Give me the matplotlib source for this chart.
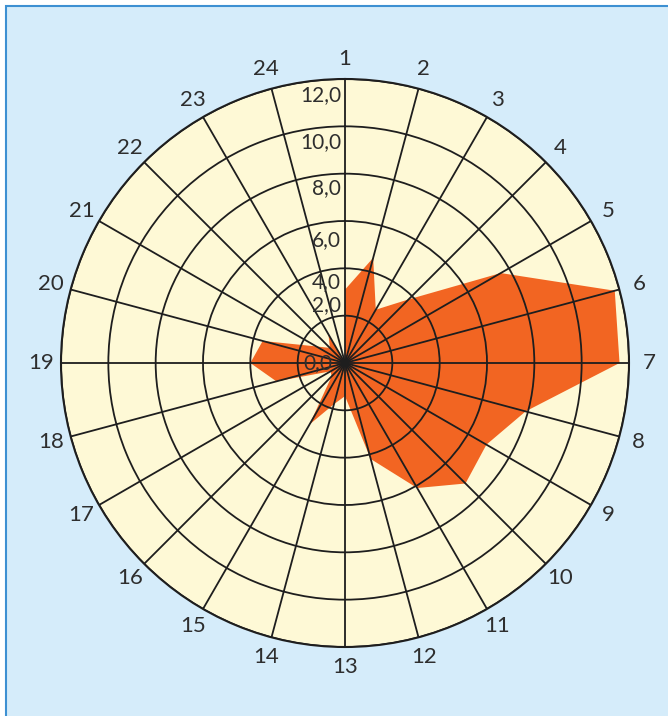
import numpy as np
import matplotlib
matplotlib.use('Agg')
import matplotlib.pyplot as plt
from matplotlib.patches import Rectangle

# categories (hours) and values
hours = [str(i) for i in range(1, 25)]
values = [3.1, 4.6, 2.6, 3.8, 7.6, 11.8, 11.6, 7.9, 6.9, 7.2, 6.1, 4.2,
          1.4, 1.8, 3.0, 0.8, 0.7, 3.0, 4.0, 3.6, 1.4, 0.9, 1.4, 0.0]
r_ticks = [2, 4, 6, 8, 10, 12]
r_labels = ['0,0', '2,0', '4,0', '6,0', '8,0', '10,0', '12,0']
# where the radial labels sit along the vertical axis
r_label_pos = [0, 2.45, 3.4, 5.2, 7.4, 9.35, 11.3]

plt.rcParams['font.family'] = ['Lato', 'DejaVu Sans']
txt_col = '#2e2e2e'

fig = plt.figure(figsize=(6.68, 7.16), dpi=100, facecolor='white')
bg = Rectangle((6 / 668, -0.05), 1.1, 1.05 - 6 / 716,
               transform=fig.transFigure, facecolor='#d5ecfa',
               edgecolor='#3d90d2', linewidth=1.5, zorder=-10)
fig.patches.append(bg)

ax = fig.add_axes([61 / 668, 69 / 716, 568 / 668, 568 / 716], projection='polar')
ax.set_zorder(5)
ax.set_theta_zero_location('N')
ax.set_theta_direction(-1)
ax.set_facecolor('#fef9d6')

theta = np.deg2rad(np.arange(24) * 15)
ax.fill(np.append(theta, theta[0]), values + values[:1],
        color='#f26522', linewidth=0, zorder=1)

ax.set_ylim(0, 12)
ax.set_yticks(r_ticks)
ax.set_yticklabels([])
ax.set_xticks(theta)
ax.set_xticklabels(hours, fontsize=16, color=txt_col)
ax.tick_params(axis='x', pad=4)
ax.grid(True, color='#1e1e1e', linewidth=1.3)
ax.spines['polar'].set_color('#1e1e1e')
ax.spines['polar'].set_linewidth(1.5)

for lab, rp in zip(r_labels, r_label_pos):
    dx = -13 if lab == '0,0' else -4
    ax.annotate(lab, xy=(0, rp), xytext=(dx, 0), textcoords='offset pixels',
                ha='right', va='center', fontsize=15, color=txt_col, zorder=5)

plt.savefig('out.png', dpi=100, facecolor=fig.get_facecolor())
